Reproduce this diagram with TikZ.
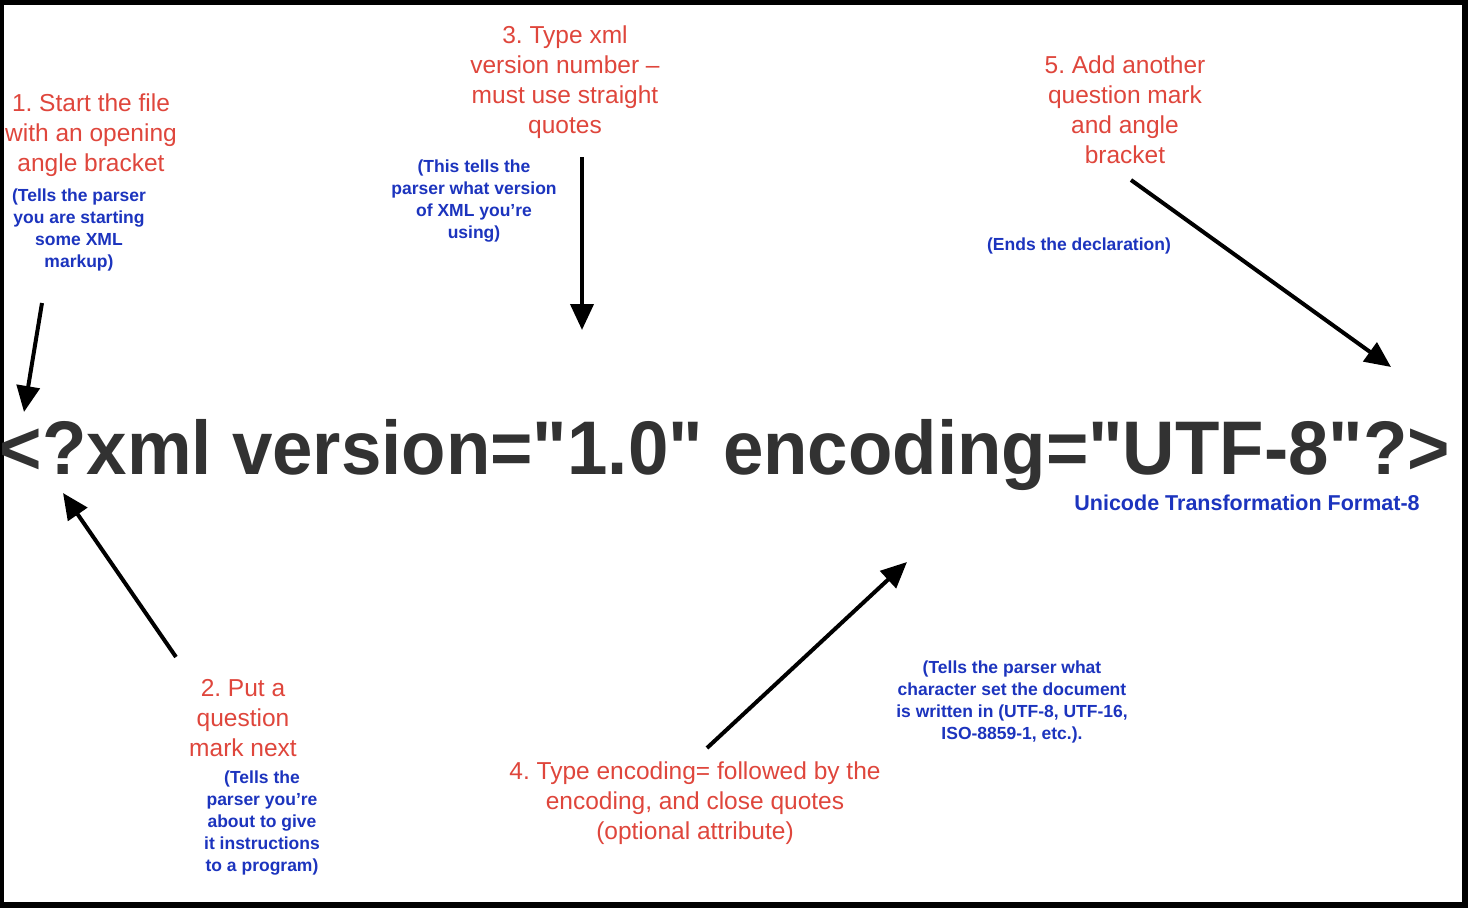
\documentclass[tikz,border=0pt]{standalone}
\usepackage{fontspec}
\setmainfont{Liberation Sans}
\newfontfamily\declfont{Liberation Sans}[Ligatures=TeXOff]
\usetikzlibrary{arrows.meta}
\definecolor{stepred}{RGB}{223,70,60}
\definecolor{noteblue}{RGB}{28,52,190}
\definecolor{declgray}{RGB}{50,50,50}
\frenchspacing
\begin{document}
\begin{tikzpicture}[x=1pt,y=-1pt,
  steptext/.style={text=stepred,align=center,inner sep=0pt,font=\fontsize{24.5}{30}\selectfont},
  notetext/.style={text=noteblue,align=center,inner sep=0pt,font=\fontsize{17.5}{22}\selectfont\bfseries},
  pointer/.style={line width=4pt,-{Triangle[length=26pt,width=23pt]}}]
% frame
\fill[black] (0,0) rectangle (1468,908);
\fill[white] (4,5) rectangle (1462,902);
\useasboundingbox (0,0) rectangle (1468,908);
% declaration
\node[inner sep=0pt,anchor=base,text=declgray,xscale=0.956,font=\declfont\fontsize{76}{80}\selectfont\bfseries] (decl) at (725,474) {<?xml version="1.0" encoding="UTF-8"?>};
\node[notetext,font=\fontsize{21.5}{24}\selectfont\bfseries] (utf) at (1247,503) {Unicode Transformation Format-8};
% step 1
\node[steptext] (s1) at (91,135) {1. Start the file\\with an opening\\angle bracket};
\node[notetext] (n1) at (79,230) {(Tells the parser\\you are starting\\some XML\\markup)};
% step 2
\node[steptext] (s2) at (243,718) {2. Put a\\question\\mark next};
\node[notetext] (n2) at (262,823) {(Tells the\\parser you’re\\about to give\\it instructions\\to a program)};
% step 3
\node[steptext] (s3) at (565,82) {3. Type xml\\version number –\\must use straight\\quotes};
\node[notetext] (n3) at (474,201) {(This tells the\\parser what version\\of XML you’re\\using)};
% step 4
\node[steptext] (s4) at (695,803) {4. Type encoding= followed by the\\encoding, and close quotes\\(optional attribute)};
\node[notetext] (n4) at (1012,702) {(Tells the parser what\\character set the document\\is written in (UTF-8, UTF-16,\\ISO-8859-1, etc.).};
% step 5
\node[steptext] (s5) at (1125,110) {5. Add another\\question mark\\and angle\\bracket};
\node[notetext] (n5) at (1079,246) {(Ends the declaration)};
% arrow ends
\coordinate (a1s) at (42,303);  \coordinate (a1e) at (24,412);
\coordinate (a2s) at (176,657); \coordinate (a2e) at (63,493);
\coordinate (a3s) at (582,157); \coordinate (a3e) at (582,330);
\coordinate (a4s) at (707,748); \coordinate (a4e) at (907,562);
\coordinate (a5s) at (1131,180);\coordinate (a5e) at (1391,367);
\draw[pointer] (a1s) -- (a1e);
\draw[pointer] (a2s) -- (a2e);
\draw[pointer] (a3s) -- (a3e);
\draw[pointer] (a4s) -- (a4e);
\draw[pointer] (a5s) -- (a5e);
\end{tikzpicture}
\end{document}
